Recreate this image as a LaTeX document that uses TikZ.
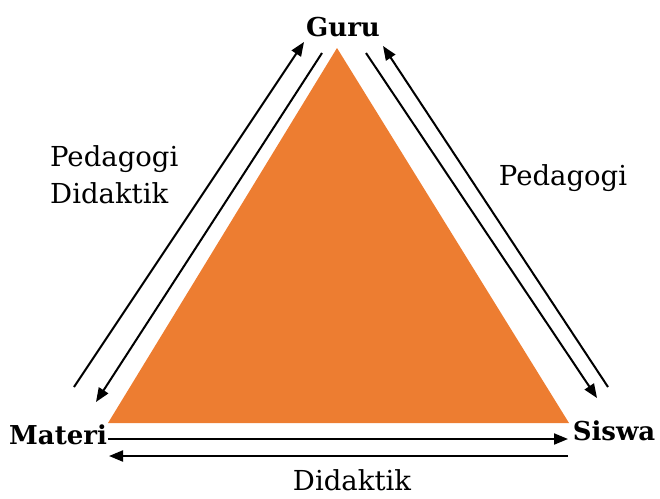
\documentclass[tikz,border=0pt]{standalone}
\usepackage{fontspec}
\setmainfont{DejaVu Serif}
\usetikzlibrary{arrows.meta}
\definecolor{triorange}{HTML}{ED7D31}
\begin{document}
\begin{tikzpicture}[x=1pt,y=-1pt,
  arr/.style={-{Triangle[length=14pt,width=11pt]}, line width=2pt},
  lbl/.style={font=\fontsize{27.5}{32}\selectfont, inner sep=0pt},
  vtx/.style={font=\fontsize{26}{30}\selectfont\bfseries, inner sep=0pt}]
\useasboundingbox (0,0) rectangle (660,498);
\fill[triorange] (337,48) -- (569,423) -- (108,423) -- cycle;
% left side
\coordinate (l1s) at (74,387); \coordinate (l1e) at (304,42);
\coordinate (l2s) at (322,53); \coordinate (l2e) at (96,402);
\draw[arr] (l1s) -- (l1e);
\draw[arr] (l2s) -- (l2e);
% right side
\coordinate (r1s) at (366,53); \coordinate (r1e) at (597,398);
\coordinate (r2s) at (608,387); \coordinate (r2e) at (383,46);
\draw[arr] (r1s) -- (r1e);
\draw[arr] (r2s) -- (r2e);
% bottom
\coordinate (b1s) at (108,439); \coordinate (b1e) at (568,439);
\coordinate (b2s) at (568,456); \coordinate (b2e) at (109,456);
\draw[arr] (b1s) -- (b1e);
\draw[arr] (b2s) -- (b2e);
% labels
\node[vtx] (guru) at (343,27) {Guru};
\node[vtx] (materi) at (58,435) {Materi};
\node[vtx] (siswa) at (614,431) {Siswa};
\node[lbl, anchor=west] (pd1) at (50,159) {Pedagogi};
\node[lbl, anchor=west] (dd1) at (50,193) {Didaktik};
\node[lbl] (pd2) at (563,178) {Pedagogi};
\node[lbl] (dd2) at (352,480) {Didaktik};
\end{tikzpicture}
\end{document}
